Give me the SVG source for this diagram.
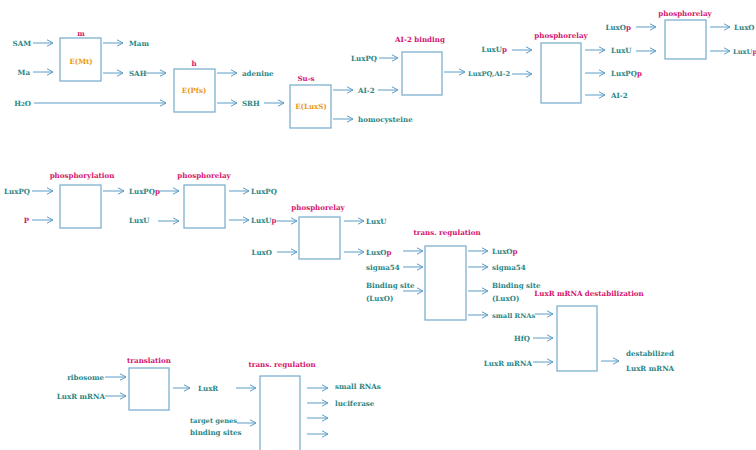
<svg xmlns="http://www.w3.org/2000/svg" width="756" height="450" viewBox="0 0 756 450">
  <style>
    .t { font-family: "DejaVu Serif", serif; font-weight: bold; font-size: 7.1px; fill: #2b8584; }
    .s { font-size: 6.7px; }
    .e { text-anchor: end; }
    .lbl { fill: #d4146e; text-anchor: middle; }
    .enz { fill: #e8991c; text-anchor: middle; }
    .p { fill: #d4146e; }
    .box { fill: #ffffff; stroke: #7fb1cf; stroke-width: 1.3; }
    .arr line { stroke: #5c9cc6; stroke-width: 1; marker-end: url(#head); }
  </style>
  <defs>
    <marker id="head" viewBox="0 0 8 8" markerWidth="8" markerHeight="8" refX="7" refY="4" orient="auto" markerUnits="userSpaceOnUse">
      <path d="M1,0.8 L7,4 L1,7.2" fill="none" stroke="#5c9cc6" stroke-width="1"/>
    </marker>
  </defs>
  <rect width="756" height="450" fill="#ffffff"/>

  <!-- reaction boxes -->
  <g id="methyltransferase">
    <rect class="box" x="60" y="38" width="41" height="43"/>
    <text class="t lbl" x="81" y="36">m</text>
    <text class="t enz" x="81" y="64">E(Mt)</text>
  </g>
  <g id="pfs">
    <rect class="box" x="174" y="69" width="41" height="43"/>
    <text class="t lbl" x="194" y="66">h</text>
    <text class="t enz" x="194" y="93">E(Pfs)</text>
  </g>
  <g id="luxs">
    <rect class="box" x="290" y="85" width="41" height="43"/>
    <text class="t lbl" x="306" y="81">Su-s</text>
    <text class="t enz" x="311" y="109">E(LuxS)</text>
  </g>
  <g id="ai2-binding">
    <rect class="box" x="402" y="52" width="40" height="43"/>
    <text class="t lbl" x="420" y="42">AI-2 binding</text>
  </g>
  <g id="phosphorelay-1">
    <rect class="box" x="541" y="43" width="40" height="60"/>
    <text class="t lbl" x="561" y="38">phosphorelay</text>
  </g>
  <g id="phosphorelay-2">
    <rect class="box" x="665" y="20" width="41" height="39"/>
    <text class="t lbl" x="685" y="16">phosphorelay</text>
  </g>
  <g id="phosphorylation">
    <rect class="box" x="60" y="185" width="41" height="43"/>
    <text class="t lbl" x="82" y="178">phosphorylation</text>
  </g>
  <g id="phosphorelay-3">
    <rect class="box" x="184" y="185" width="41" height="43"/>
    <text class="t lbl" x="204" y="178">phosphorelay</text>
  </g>
  <g id="phosphorelay-4">
    <rect class="box" x="299" y="217" width="41" height="42"/>
    <text class="t lbl" x="318" y="210">phosphorelay</text>
  </g>
  <g id="trans-regulation-1">
    <rect class="box" x="425" y="246" width="41" height="74"/>
    <text class="t lbl" x="447" y="235">trans. regulation</text>
  </g>
  <g id="mrna-destabilization">
    <rect class="box" x="557" y="306" width="40" height="65"/>
    <text class="t lbl" x="589" y="296">LuxR mRNA destabilization</text>
  </g>
  <g id="translation">
    <rect class="box" x="129" y="368" width="40" height="42"/>
    <text class="t lbl" x="149" y="363">translation</text>
  </g>
  <g id="trans-regulation-2">
    <rect class="box" x="260" y="376" width="40" height="82"/>
    <text class="t lbl" x="282" y="367">trans. regulation</text>
  </g>

  <!-- species names -->
  <g id="species">
    <text class="t e" x="31" y="46">SAM</text>
    <text class="t e" x="30" y="75">Ma</text>
    <text class="t e" x="31" y="106">H<tspan font-size="5.5">2</tspan>O</text>
    <text class="t" x="129" y="46">Mam</text>
    <text class="t" x="129" y="76">SAH</text>
    <text class="t" x="242" y="76">adenine</text>
    <text class="t" x="242" y="106">SRH</text>
    <text class="t" x="358" y="93">AI-2</text>
    <text class="t" x="358" y="122">homocysteine</text>
    <text class="t e" x="377" y="61">LuxPQ</text>
    <text class="t s" x="468" y="76">LuxPQ,AI-2</text>
    <text class="t e" x="507" y="52">LuxU<tspan class="p">p</tspan></text>
    <text class="t" x="611" y="53">LuxU</text>
    <text class="t" x="611" y="76">LuxPQ<tspan class="p">p</tspan></text>
    <text class="t" x="611" y="98">AI-2</text>
    <text class="t e" x="631" y="30">LuxO<tspan class="p">p</tspan></text>
    <text class="t" x="734" y="30">LuxO</text>
    <text class="t s" x="733" y="54">LuxU<tspan class="p">p</tspan></text>

    <text class="t e" x="30" y="194">LuxPQ</text>
    <text class="t p e" x="29" y="223">P</text>
    <text class="t" x="129" y="194">LuxPQ<tspan class="p">p</tspan></text>
    <text class="t" x="129" y="223">LuxU</text>
    <text class="t" x="251" y="194">LuxPQ</text>
    <text class="t" x="251" y="223">LuxU<tspan class="p">p</tspan></text>
    <text class="t e" x="272" y="255">LuxO</text>
    <text class="t" x="366" y="224">LuxU</text>
    <text class="t" x="366" y="255">LuxO<tspan class="p">p</tspan></text>
    <text class="t" x="366" y="270">sigma54</text>
    <text class="t" x="366" y="288">Binding site</text>
    <text class="t" x="366" y="301">(LuxO)</text>
    <text class="t" x="492" y="254">LuxO<tspan class="p">p</tspan></text>
    <text class="t" x="492" y="270">sigma54</text>
    <text class="t" x="492" y="288">Binding site</text>
    <text class="t" x="492" y="301">(LuxO)</text>
    <text class="t s" x="492" y="318">small RNAs</text>
    <text class="t e" x="530" y="341">HfQ</text>
    <text class="t e" x="532" y="366">LuxR mRNA</text>
    <text class="t" x="626" y="356">destabilized</text>
    <text class="t" x="626" y="371">LuxR mRNA</text>

    <text class="t e" x="104" y="380">ribosome</text>
    <text class="t e" x="105" y="399">LuxR mRNA</text>
    <text class="t" x="198" y="391">LuxR</text>
    <text class="t s" x="190" y="423">target genes</text>
    <text class="t" x="190" y="435">binding sites</text>
    <text class="t" x="335" y="389">small RNAs</text>
    <text class="t" x="335" y="406">luciferase</text>
  </g>

  <!-- connectors -->
  <g id="connectors" class="arr">
    <line x1="33" y1="43" x2="53" y2="43"/>
    <line x1="33" y1="72" x2="53" y2="72"/>
    <line x1="34" y1="103" x2="166" y2="103"/>
    <line x1="103" y1="43" x2="123" y2="43"/>
    <line x1="103" y1="73" x2="123" y2="73"/>
    <line x1="146" y1="73" x2="166" y2="73"/>
    <line x1="217" y1="73" x2="237" y2="73"/>
    <line x1="217" y1="103" x2="237" y2="103"/>
    <line x1="264" y1="103" x2="284" y2="103"/>
    <line x1="333" y1="90" x2="353" y2="90"/>
    <line x1="333" y1="119" x2="353" y2="119"/>
    <line x1="379" y1="58" x2="398" y2="58"/>
    <line x1="378" y1="90" x2="398" y2="90"/>
    <line x1="444" y1="72" x2="465" y2="72"/>
    <line x1="512" y1="50" x2="532" y2="50"/>
    <line x1="512" y1="74" x2="532" y2="74"/>
    <line x1="585" y1="50" x2="605" y2="50"/>
    <line x1="585" y1="73" x2="605" y2="73"/>
    <line x1="585" y1="95" x2="605" y2="95"/>
    <line x1="636" y1="27" x2="656" y2="27"/>
    <line x1="636" y1="51" x2="656" y2="51"/>
    <line x1="710" y1="27" x2="730" y2="27"/>
    <line x1="710" y1="51" x2="730" y2="51"/>

    <line x1="32" y1="191" x2="53" y2="191"/>
    <line x1="32" y1="220" x2="53" y2="220"/>
    <line x1="103" y1="191" x2="124" y2="191"/>
    <line x1="159" y1="191" x2="179" y2="191"/>
    <line x1="158" y1="221" x2="179" y2="221"/>
    <line x1="229" y1="191" x2="249" y2="191"/>
    <line x1="229" y1="220" x2="249" y2="220"/>
    <line x1="277" y1="221" x2="297" y2="221"/>
    <line x1="277" y1="252" x2="297" y2="252"/>
    <line x1="344" y1="221" x2="364" y2="221"/>
    <line x1="344" y1="252" x2="364" y2="252"/>
    <line x1="403" y1="251" x2="423" y2="251"/>
    <line x1="403" y1="267" x2="423" y2="267"/>
    <line x1="403" y1="291" x2="423" y2="291"/>
    <line x1="468" y1="251" x2="488" y2="251"/>
    <line x1="468" y1="267" x2="488" y2="267"/>
    <line x1="468" y1="291" x2="488" y2="291"/>
    <line x1="468" y1="315" x2="488" y2="315"/>
    <line x1="535" y1="314" x2="553" y2="314"/>
    <line x1="533" y1="338" x2="553" y2="338"/>
    <line x1="533" y1="362" x2="553" y2="362"/>
    <line x1="601" y1="361" x2="619" y2="361"/>

    <line x1="105" y1="377" x2="126" y2="377"/>
    <line x1="105" y1="396" x2="126" y2="396"/>
    <line x1="173" y1="388" x2="190" y2="388"/>
    <line x1="236" y1="388" x2="256" y2="388"/>
    <line x1="237" y1="423" x2="256" y2="423"/>
    <line x1="307" y1="388" x2="328" y2="388"/>
    <line x1="307" y1="403" x2="328" y2="403"/>
    <line x1="307" y1="418" x2="328" y2="418"/>
    <line x1="307" y1="434" x2="328" y2="434"/>
  </g>
</svg>
